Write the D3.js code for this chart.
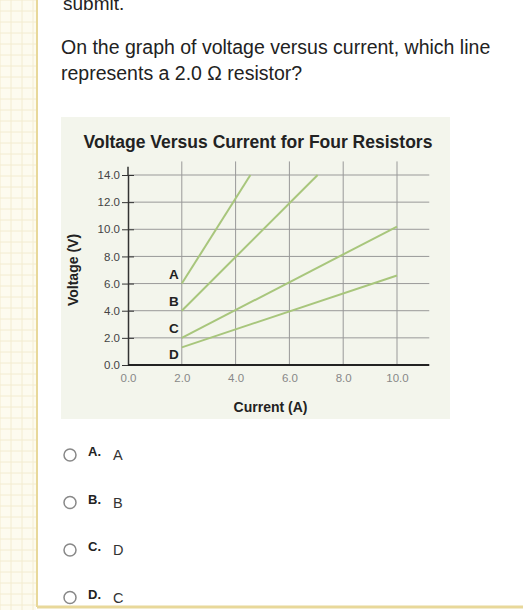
<!DOCTYPE html>
<html>
<head>
<meta charset="utf-8">
<script src="https://cdn.jsdelivr.net/npm/d3@7"></script>
<style>
  body { margin: 0; background: #fff; font-family: "Liberation Sans", Arial, sans-serif; }
</style>
</head>
<body>
<div id="chart"></div>
<script>
// Data
var lineNames = ["A", "B", "C", "D"];
var startPoints = [[2, 6], [2, 4], [2, 2], [2, 1.3]];
var endPoints = [[4.55, 14], [7.05, 14], [10, 10.2], [10, 6.6]];
var xTicks = [0, 2, 4, 6, 8, 10];
var yTicks = [0, 2, 4, 6, 8, 10, 12, 14];
var options = [["A.", "A"], ["B.", "B"], ["C.", "D"], ["D.", "C"]];

var svg = d3.select("#chart").append("svg")
    .attr("width", 523)
    .attr("height", 610);

// Page decoration: grid paper strip at left
var strip = svg.append("g");
strip.append("rect").attr("x", 0).attr("y", 0).attr("width", 36).attr("height", 610).attr("fill", "#fdfbef");
d3.range(0, 36, 11).forEach(function(x) {
    strip.append("line").attr("x1", x).attr("x2", x).attr("y1", 0).attr("y2", 610).attr("stroke", "#f3ecd0");
});
d3.range(0, 610, 11).forEach(function(y) {
    strip.append("line").attr("x1", 0).attr("x2", 36).attr("y1", y).attr("y2", y).attr("stroke", "#f3ecd0");
});
svg.append("line").attr("x1", 37).attr("x2", 37).attr("y1", 0).attr("y2", 607).attr("stroke", "#e8d89a").attr("stroke-width", 2);
svg.append("line").attr("x1", 37).attr("x2", 523).attr("y1", 607).attr("y2", 607).attr("stroke", "#e8d89a").attr("stroke-width", 3);

// Question text
svg.append("text").attr("x", 63).attr("y", 10).attr("font-size", 19).attr("fill", "#222").text("submit.");
svg.append("text").attr("x", 61).attr("y", 54).attr("font-size", 19.5).attr("fill", "#222")
    .text("On the graph of voltage versus current, which line");
svg.append("text").attr("x", 61).attr("y", 80).attr("font-size", 19.5).attr("fill", "#222")
    .text("represents a 2.0 Ω resistor?");

// Chart panel
svg.append("rect").attr("x", 61).attr("y", 117).attr("width", 389).attr("height", 302).attr("fill", "#f3f5ec");
svg.append("text").attr("x", 258).attr("y", 148).attr("text-anchor", "middle")
    .attr("font-size", 17.5).attr("font-weight", "bold").attr("fill", "#222")
    .text("Voltage Versus Current for Four Resistors");

var x = d3.scaleLinear().domain([0, 10]).range([128, 397]);
var y = d3.scaleLinear().domain([0, 14]).range([365, 175]);

var g = svg.append("g");
// vertical grid lines
xTicks.filter(function(d) { return d > 0; }).forEach(function(d) {
    g.append("line").attr("x1", x(d)).attr("x2", x(d)).attr("y1", y(0)).attr("y2", y(15))
        .attr("stroke", "#999").attr("stroke-width", 1);
});
// horizontal grid lines
yTicks.filter(function(d) { return d > 0; }).forEach(function(d) {
    g.append("line").attr("x1", x(0)).attr("x2", x(11.2)).attr("y1", y(d)).attr("y2", y(d))
        .attr("stroke", "#999").attr("stroke-width", 1);
});

// axes
var yAxis = g.append("g").attr("transform", "translate(" + x(0) + ",0)")
    .call(d3.axisLeft(y).tickValues(yTicks).tickFormat(d3.format(".1f")).tickSize(6).tickSizeOuter(0));
yAxis.select(".domain").attr("stroke", "#333").attr("stroke-width", 1.5);
yAxis.selectAll(".tick line").attr("stroke", "#333").attr("x2", 6).attr("x1", -6);
yAxis.selectAll(".tick text").attr("font-size", 11.5).attr("fill", "#444").attr("x", -8)
    .attr("font-family", "Liberation Sans, Arial, sans-serif");
g.append("line").attr("x1", x(0)).attr("x2", x(0)).attr("y1", y(14)).attr("y2", y(14.6)).attr("stroke", "#333").attr("stroke-width", 1.5);

var xAxis = g.append("g").attr("transform", "translate(0," + y(0) + ")")
    .call(d3.axisBottom(x).tickValues(xTicks).tickFormat(d3.format(".1f")).tickSize(0).tickSizeOuter(0));
xAxis.select(".domain").remove();
g.append("line").attr("x1", x(0)).attr("x2", x(11.2)).attr("y1", y(0)).attr("y2", y(0)).attr("stroke", "#222").attr("stroke-width", 2);
xAxis.selectAll(".tick text").attr("font-size", 11.5).attr("fill", "#888").attr("dy", "1.2em")
    .attr("font-family", "Liberation Sans, Arial, sans-serif");

svg.append("text").attr("x", x(5.3)).attr("y", 412).attr("text-anchor", "middle")
    .attr("font-size", 14).attr("font-weight", "bold").attr("fill", "#222").text("Current (A)");
svg.append("text").attr("transform", "translate(78," + y(7) + ") rotate(-90)").attr("text-anchor", "middle")
    .attr("font-size", 14).attr("font-weight", "bold").attr("fill", "#222").text("Voltage (V)");

// resistor lines
lineNames.forEach(function(name, i) {
    g.append("line")
        .attr("x1", x(startPoints[i][0])).attr("y1", y(startPoints[i][1]))
        .attr("x2", x(endPoints[i][0])).attr("y2", y(endPoints[i][1]))
        .attr("stroke", "#a8c67c").attr("stroke-width", 2);
    var ly = i === 3 ? startPoints[i][1] - 0.5 : startPoints[i][1] + 0.7;
    g.append("text").attr("x", x(startPoints[i][0]) - 3).attr("y", y(ly) + 5)
        .attr("text-anchor", "end").attr("font-size", 13.5).attr("font-weight", "bold").attr("fill", "#222")
        .text(name);
});

// answer options
options.forEach(function(o, i) {
    var cy = 455 + i * 47.5;
    svg.append("circle").attr("cx", 70).attr("cy", cy).attr("r", 6).attr("fill", "#fff")
        .attr("stroke", "#888").attr("stroke-width", 1.5);
    svg.append("text").attr("x", 88).attr("y", cy + 1).attr("font-size", 13).attr("font-weight", "bold")
        .attr("fill", "#222").text(o[0]);
    svg.append("text").attr("x", 113).attr("y", cy + 5).attr("font-size", 14.5).attr("fill", "#333").text(o[1]);
});
</script>
</body>
</html>
